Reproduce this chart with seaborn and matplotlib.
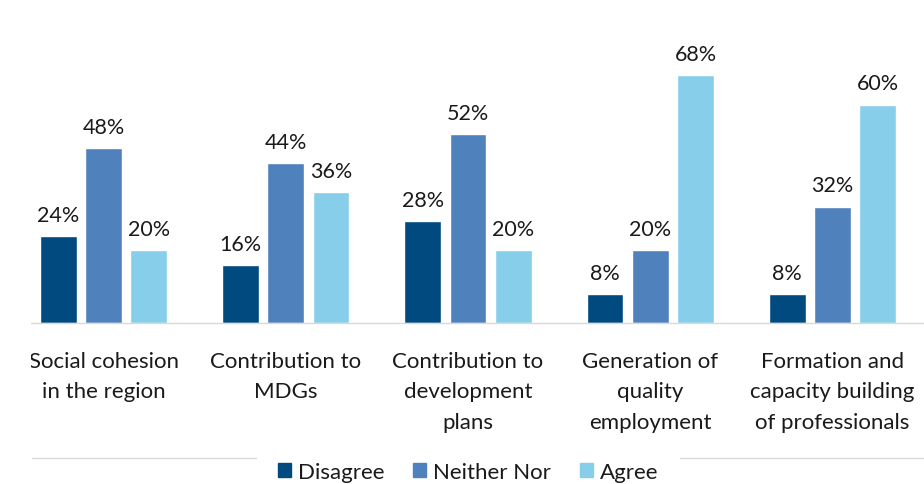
import matplotlib
matplotlib.use("Agg")
import matplotlib.pyplot as plt
import seaborn as sns
import pandas as pd
from matplotlib.patches import Rectangle
from matplotlib.lines import Line2D

categories = [
    "Social cohesion\nin the region",
    "Contribution to\nMDGs",
    "Contribution to\ndevelopment\nplans",
    "Generation of\nquality\nemployment",
    "Formation and\ncapacity building\nof professionals",
]
series = ["Disagree", "Neither Nor", "Agree"]
disagree = [24, 16, 28, 8, 8]
neither_nor = [48, 44, 52, 20, 32]
agree = [20, 36, 20, 68, 60]
colors = ["#004a80", "#4f81bd", "#87ceeb"]

rows = []
for name, vals in zip(series, [disagree, neither_nor, agree]):
    for cat, v in zip(categories, vals):
        rows.append({"category": cat, "response": name, "value": v})
df = pd.DataFrame(rows)

sns.set_theme(style="white")
plt.rcParams["font.family"] = ["Lato", "DejaVu Sans"]

W, H = 924, 485
fig = plt.figure(figsize=(W / 100, H / 100), dpi=100)
base_px = 324
ax = fig.add_axes([12.4 / W, (H - base_px) / H, 911.2 / W, base_px / H])

sns.barplot(data=df, x="category", y="value", hue="response",
            palette=colors, width=0.746, gap=0.19, ax=ax,
            saturation=1, legend=False, errorbar=None)

ax.set_xlim(-0.5, 4.5)
ax.set_ylim(0, base_px / 3.64)
ax.set_xlabel("")
ax.set_ylabel("")
ax.set_yticks([])
for s in ["top", "left", "right"]:
    ax.spines[s].set_visible(False)
ax.spines["bottom"].set_color("#d9d9d9")
ax.spines["bottom"].set_linewidth(1.0)
ax.tick_params(axis="x", length=0, pad=20)
ax.set_xticks(range(len(categories)))
ax.set_xticklabels(categories, fontsize=16, color="#1a1a1a", linespacing=1.67,
                   va="top")

for container in ax.containers:
    ax.bar_label(container, labels=[f"{int(round(b.get_height()))}%" for b in container],
                 padding=8, fontsize=15.5, color="#1a1a1a")

# separator line broken around the legend
y_sep = 1 - 459 / H
fig.add_artist(Line2D([32 / W, 256 / W], [y_sep, y_sep], transform=fig.transFigure,
                      color="#d9d9d9", lw=1.0))
fig.add_artist(Line2D([680 / W, 1.0], [y_sep, y_sep], transform=fig.transFigure,
                      color="#d9d9d9", lw=1.0))

handles = [Rectangle((0, 0), 1, 1, color=c) for c in colors]
fig.legend(handles, series, loc="center", bbox_to_anchor=(468 / W, 1 - 473 / H),
           ncol=3, frameon=False, fontsize=16, handlelength=0.6, handleheight=0.6,
           handletextpad=0.3, columnspacing=1.3, labelcolor="#1a1a1a")

# left margin of the canvas is blank
fig.add_artist(Rectangle((0, 0), 31 / W, 1, transform=fig.transFigure,
                         facecolor="white", edgecolor="none", zorder=20))

fig.savefig("out.png", dpi=100)
